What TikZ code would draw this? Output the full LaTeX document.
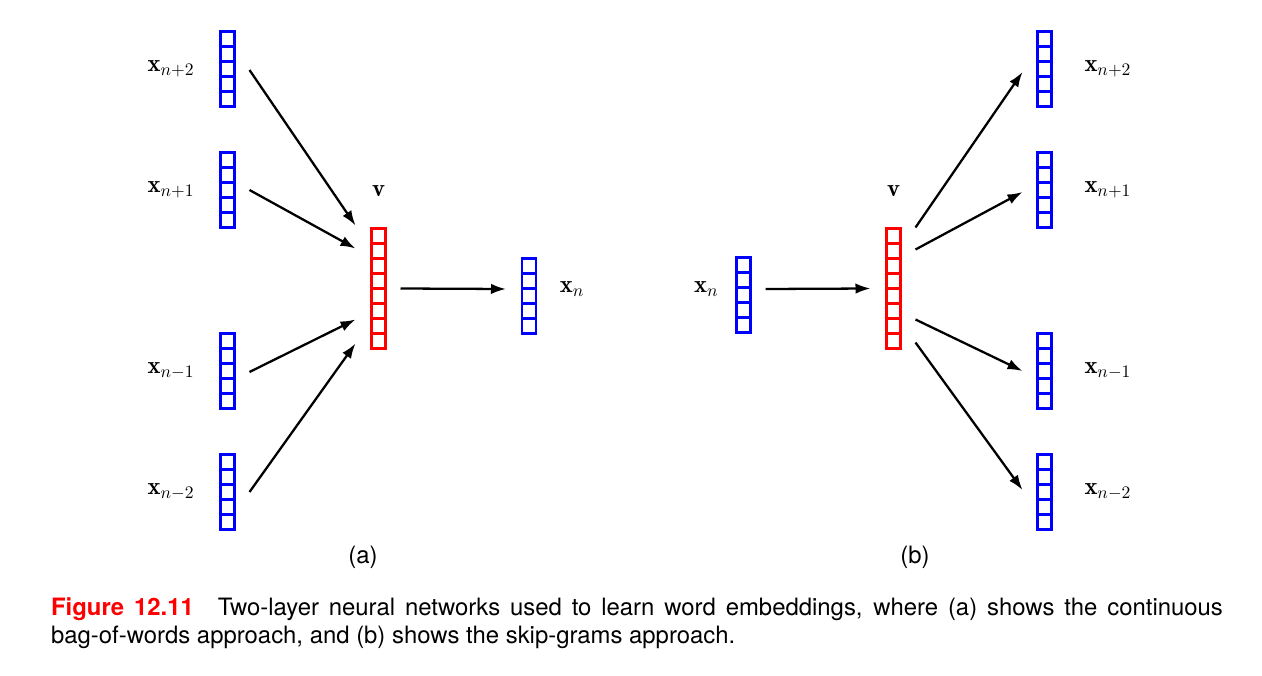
\documentclass[tikz,border=0pt]{standalone}
\usepackage{fontspec}
\usepackage{amsmath}
\usetikzlibrary{positioning, calc, arrows.meta}
\newfontfamily\capfont{TeX Gyre Heros}

\tikzset{
  bluevec/.style={draw=blue, line width=1.5pt, minimum width=0.28cm, minimum height=1.49cm, inner sep=0pt, outer sep=0pt},
  redvec/.style={draw=red, line width=1.5pt, minimum width=0.28cm, minimum height=2.39cm, inner sep=0pt, outer sep=0pt},
  veclabel/.style={font=\fontsize{14}{16}\selectfont},
  sublabel/.style={font=\capfont\fontsize{13.6}{15.5}\selectfont},
}

\begin{document}
\begin{tikzpicture}[x=0.02cm, y=-0.02cm, >={Latex[length=3mm, width=2.1mm]}, line width=1.3pt]
  \useasboundingbox (0,0) rectangle (1262,676);

  % (a) continuous bag-of-words
  \node[bluevec] (xa2) at (227.5,69) {};
  \node[bluevec] (xa1) at (227.5,190) {};
  \node[bluevec] (xam1) at (227.5,371) {};
  \node[bluevec] (xam2) at (227.5,492) {};
  \node[redvec] (va) at (378.5,288.5) {};
  \node[bluevec] (xan) at (529,296) {};

  \node[veclabel, left=0.38cm of xa2] (lxa2) {$\mathbf{x}_{n+2}$};
  \node[veclabel, left=0.38cm of xa1] (lxa1) {$\mathbf{x}_{n+1}$};
  \node[veclabel, left=0.38cm of xam1] (lxam1) {$\mathbf{x}_{n-1}$};
  \node[veclabel, left=0.38cm of xam2] (lxam2) {$\mathbf{x}_{n-2}$};
  \node[veclabel, above=0.5cm of va] (lva) {$\mathbf{v}$};
  \node[veclabel, right=0.34cm of xan, yshift=0.14cm] (lxan) {$\mathbf{x}_{n}$};

  \draw[->] ($(xa2.east)+(15,1)$) -- ($(va.west)+(-16,-63)$);
  \draw[->] ($(xa1.east)+(15,0)$) -- ($(va.west)+(-16,-40)$);
  \draw[->] ($(xam1.east)+(15,1)$) -- ($(va.west)+(-16,31)$);
  \draw[->] ($(xam2.east)+(15,0)$) -- ($(va.west)+(-16,55)$);
  \draw[->] ($(va.east)+(15,0)$) -- ($(xan.west)+(-16,-7)$);

  \node[sublabel] (capa) at (363,557) {(a)};

  % (b) skip-grams
  \node[bluevec] (xbn) at (743.5,295) {};
  \node[redvec] (vb) at (893.5,288.5) {};
  \node[bluevec] (xb2) at (1044.5,69) {};
  \node[bluevec] (xb1) at (1044.5,190) {};
  \node[bluevec] (xbm1) at (1044.5,371) {};
  \node[bluevec] (xbm2) at (1044.5,492) {};

  \node[veclabel, left=0.22cm of xbn, yshift=0.12cm] (lxbn) {$\mathbf{x}_{n}$};
  \node[veclabel, above=0.5cm of vb] (lvb) {$\mathbf{v}$};
  \node[veclabel, right=0.52cm of xb2] (lxb2) {$\mathbf{x}_{n+2}$};
  \node[veclabel, right=0.52cm of xb1] (lxb1) {$\mathbf{x}_{n+1}$};
  \node[veclabel, right=0.52cm of xbm1] (lxbm1) {$\mathbf{x}_{n-1}$};
  \node[veclabel, right=0.52cm of xbm2] (lxbm2) {$\mathbf{x}_{n-2}$};

  \draw[->] ($(xbn.east)+(15,-6)$) -- ($(vb.west)+(-16,0)$);
  \draw[->] ($(vb.east)+(15,-61)$) -- ($(xb2.west)+(-15,3)$);
  \draw[->] ($(vb.east)+(15,-39)$) -- ($(xb1.west)+(-15,2)$);
  \draw[->] ($(vb.east)+(15,31)$) -- ($(xbm1.west)+(-15,0)$);
  \draw[->] ($(vb.east)+(15,54)$) -- ($(xbm2.west)+(-15,-2)$);

  \node[sublabel] (capb) at (915,557) {(b)};

  % Zellen der Vektoren
  \foreach \v in {xa2, xa1, xam1, xam2, xan, xbn, xb2, xb1, xbm1, xbm2}
    \foreach \k in {1,...,4}
      \draw[blue, line width=1.5pt] ($(\v.south west)!\k/5!(\v.north west)$) -- ($(\v.south east)!\k/5!(\v.north east)$);
  \foreach \v in {va, vb}
    \foreach \k in {1,...,7}
      \draw[red, line width=1.5pt] ($(\v.south west)!\k/8!(\v.north west)$) -- ($(\v.south east)!\k/8!(\v.north east)$);

  % Bildunterschrift
  \node[sublabel, anchor=north west, text width=23.44cm, align=justify, inner sep=0pt] (caption) at (50,597)
    {{\color{red}\bfseries Figure 12.11}\quad Two-layer neural networks used to learn word embeddings, where (a) shows the continuous\linebreak bag-of-words approach, and (b) shows the skip-grams approach.};
\end{tikzpicture}
\end{document}
